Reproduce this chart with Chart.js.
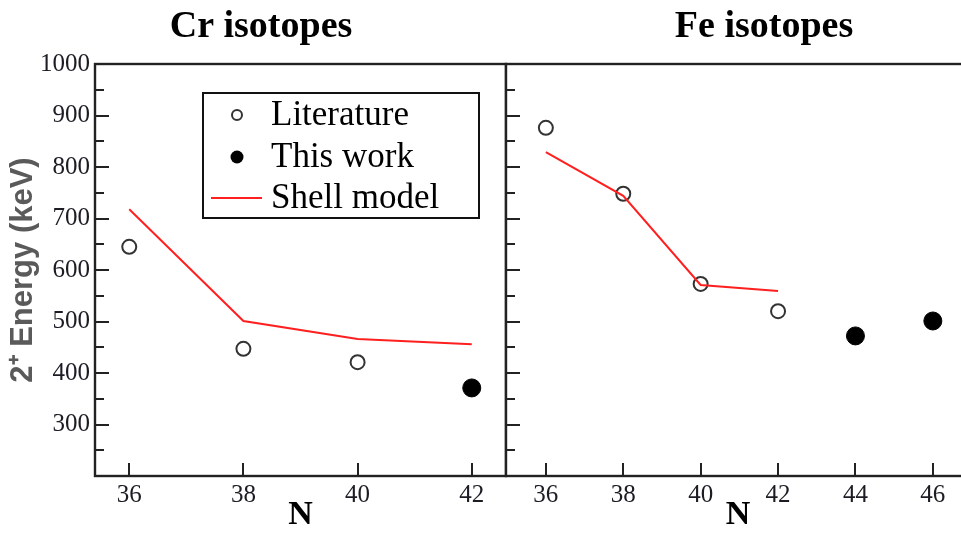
<!DOCTYPE html>
<html>
<head>
<meta charset="utf-8">
<script src="https://cdn.jsdelivr.net/npm/chart.js@4.4.1/dist/chart.umd.min.js"></script>
<style>
  html, body { margin: 0; padding: 0; background: #fff; overflow: hidden; width: 961px; height: 534px; }
  #cr { position: absolute; left: 0; top: 0; }
  #fe { position: absolute; left: 500px; top: 0; }
</style>
</head>
<body>
<canvas id="cr" width="507" height="534"></canvas>
<canvas id="fe" width="471" height="534"></canvas>
<script>
// Cr isotopes
const crLitN = [36, 38, 40];
const crLitE = [645, 447, 421];
const crThisN = [42];
const crThisE = [371];
const crShellN = [36, 38, 40, 42];
const crShellE = [718, 501, 466, 456];

// Fe isotopes
const feLitN = [36, 38, 40, 42];
const feLitE = [876, 748, 573, 520];
const feThisN = [44, 46];
const feThisE = [472, 501];
const feShellN = [36, 38, 40, 42];
const feShellE = [829, 744, 571, 559];

const crTicksN = [36, 38, 40, 42];
const feTicksN = [36, 38, 40, 42, 44, 46];
const energyTicks = [300, 400, 500, 600, 700, 800, 900, 1000];

const INK = '#1c1c24';
const SERIF = "'Liberation Serif', 'Times New Roman', serif";

function pts(xs, ys) {
  return xs.map((x, i) => ({ x: x, y: ys[i] }));
}

function datasets(shellN, shellE, litN, litE, thisN, thisE) {
  return [
    {
      label: 'Shell model',
      data: pts(shellN, shellE),
      showLine: true,
      borderColor: '#ff1f1f',
      borderWidth: 2,
      pointRadius: 0,
      tension: 0
    },
    {
      label: 'Literature',
      data: pts(litN, litE),
      pointStyle: 'circle',
      pointRadius: 7,
      pointBorderWidth: 2,
      pointBorderColor: '#333',
      pointBackgroundColor: 'rgba(255,255,255,0)'
    },
    {
      label: 'This work',
      data: pts(thisN, thisE),
      pointStyle: 'circle',
      pointRadius: 9,
      pointBorderWidth: 1,
      pointBorderColor: '#000',
      pointBackgroundColor: '#000'
    }
  ];
}

// frame, inward tick marks, panel title and the boxed legend
const panelDecor = {
  id: 'panelDecor',
  afterDraw(chart, args, opts) {
    const { ctx, chartArea: a } = chart;
    const xs = chart.scales.x, ys = chart.scales.y;
    ctx.save();
    ctx.strokeStyle = '#222';
    ctx.lineWidth = 2.4;
    ctx.strokeRect(a.left, a.top, a.right - a.left, a.bottom - a.top);

    ctx.lineWidth = 2;
    ctx.beginPath();
    opts.xTicks.forEach(v => {
      const px = Math.round(xs.getPixelForValue(v));
      ctx.moveTo(px, a.bottom);
      ctx.lineTo(px, a.bottom - 13);
    });
    for (let v = 250; v < 1000; v += 50) {
      const py = Math.round(ys.getPixelForValue(v));
      const len = v % 100 === 0 ? 14 : 9;
      ctx.moveTo(a.left, py);
      ctx.lineTo(a.left + len, py);
    }
    ctx.stroke();

    ctx.fillStyle = '#000';
    ctx.font = 'bold 38px ' + SERIF;
    ctx.textAlign = 'center';
    ctx.textBaseline = 'alphabetic';
    ctx.fillText(opts.title, opts.titleX, 37);

    if (opts.legend) {
      const sets = chart.data.datasets;
      const lit = sets[1], mine = sets[2], shell = sets[0];
      ctx.strokeStyle = '#111';
      ctx.lineWidth = 2;
      ctx.strokeRect(203, 93, 276, 125);

      ctx.beginPath();
      ctx.arc(237, 115, 5, 0, Math.PI * 2);
      ctx.strokeStyle = lit.pointBorderColor;
      ctx.lineWidth = 2;
      ctx.stroke();

      ctx.beginPath();
      ctx.arc(237, 157, 6.5, 0, Math.PI * 2);
      ctx.fillStyle = mine.pointBackgroundColor;
      ctx.fill();

      ctx.beginPath();
      ctx.moveTo(211, 198);
      ctx.lineTo(262, 198);
      ctx.strokeStyle = shell.borderColor;
      ctx.lineWidth = shell.borderWidth;
      ctx.stroke();

      ctx.fillStyle = '#000';
      ctx.font = '35px ' + SERIF;
      ctx.textAlign = 'left';
      ctx.fillText(lit.label, 271, 125);
      ctx.fillText(mine.label, 271, 167);
      ctx.fillText(shell.label, 271, 208);
    }
    ctx.restore();
  }
};

function noEdgePadding(s) {
  s.paddingLeft = 0;
  s.paddingRight = 0;
  s.paddingTop = 0;
  s.paddingBottom = 0;
}

function panel(id, cfg) {
  return new Chart(document.getElementById(id), {
    type: 'scatter',
    data: { datasets: cfg.datasets },
    plugins: [panelDecor],
    options: {
      responsive: false,
      animation: false,
      events: [],
      layout: { padding: cfg.padding, autoPadding: false },
      plugins: {
        legend: { display: false },
        tooltip: { enabled: false },
        panelDecor: { title: cfg.title, titleX: cfg.titleX, legend: cfg.legend, xTicks: cfg.xTicks }
      },
      scales: {
        x: {
          type: 'linear',
          min: cfg.xMin,
          max: cfg.xMax,
          afterFit: s => { s.height = 58; noEdgePadding(s); },
          afterBuildTicks: s => { s.ticks = cfg.xTicks.map(v => ({ value: v })); },
          grid: { display: false, drawTicks: false },
          border: { display: false },
          ticks: {
            padding: 4,
            color: INK,
            font: { family: SERIF, size: 25 },
            callback: v => String(v)
          },
          title: {
            display: true,
            text: 'N',
            color: '#000',
            padding: { top: 0, bottom: 0 },
            font: { family: SERIF, size: 34, weight: 'bold', lineHeight: 1.1 }
          }
        },
        y: {
          type: 'linear',
          min: 200,
          max: 1000,
          afterFit: s => { s.width = cfg.yWidth; noEdgePadding(s); },
          afterBuildTicks: s => { s.ticks = energyTicks.map(v => ({ value: v })); },
          grid: { display: false, drawTicks: false },
          border: { display: false },
          ticks: {
            display: cfg.yLabels,
            padding: 5,
            color: INK,
            font: { family: SERIF, size: 25 },
            callback: v => String(v)
          },
          title: {
            display: cfg.yLabels,
            text: '2\u207A Energy (keV)',
            color: '#5a5a5a',
            padding: { top: 5, bottom: 0 },
            font: { family: "'Liberation Sans', Arial, sans-serif", size: 31, weight: 'bold', lineHeight: 1.2 }
          }
        }
      }
    }
  });
}

panel('cr', {
  datasets: datasets(crShellN, crShellE, crLitN, crLitE, crThisN, crThisE),
  title: 'Cr isotopes',
  titleX: 261,
  legend: true,
  xTicks: crTicksN,
  xMin: 35.4,
  xMax: 42.6,
  yWidth: 95,
  yLabels: true,
  padding: { top: 64, right: 1, left: 0, bottom: 0 }
});

panel('fe', {
  datasets: datasets(feShellN, feShellE, feLitN, feLitE, feThisN, feThisE),
  title: 'Fe isotopes',
  titleX: 264,
  legend: false,
  xTicks: feTicksN,
  xMin: 34.97,
  xMax: 46.96,
  yWidth: 0,
  yLabels: false,
  padding: { top: 64, right: 1, left: 6, bottom: 0 }
});
</script>
</body>
</html>
